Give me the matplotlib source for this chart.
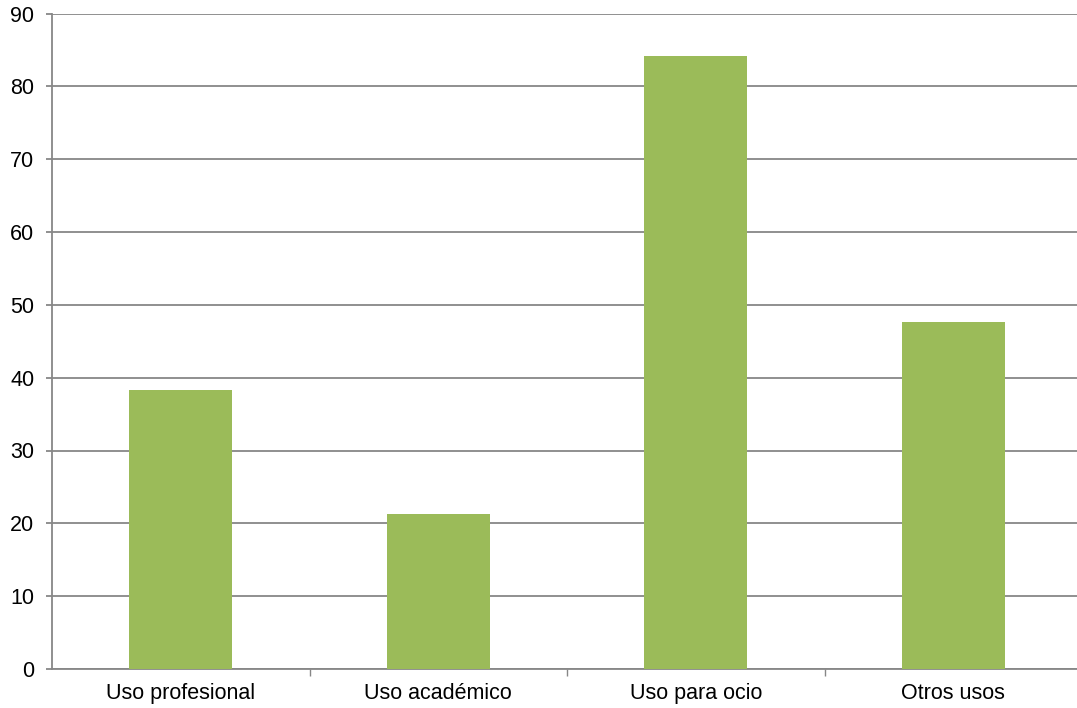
import matplotlib
matplotlib.use("Agg")
import matplotlib.pyplot as plt
from matplotlib.ticker import FixedLocator

categories = ["Uso profesional", "Uso académico", "Uso para ocio", "Otros usos"]
values = [38.3, 21.3, 84.2, 47.6]
yticks = [0, 10, 20, 30, 40, 50, 60, 70, 80, 90]

plt.rcParams['font.family'] = ['Liberation Sans', 'DejaVu Sans']

fig = plt.figure(figsize=(10.77, 7.08), dpi=100)
# plot area runs a little past the right edge, like the original
ax = fig.add_axes([52 / 1077, 39 / 708, 1030 / 1077, 655.5 / 708])

x = list(range(len(categories)))
ax.bar(x, values, width=0.4, color='#9BBB59', zorder=3)

ax.set_xlim(-0.5, len(categories) - 0.5)
ax.set_ylim(0, 90)
ax.set_yticks(yticks)
ax.yaxis.grid(True, color='#878787', linewidth=1.3, zorder=0)

ax.set_xticks(x)
ax.set_xticklabels(categories)
ax.xaxis.set_minor_locator(FixedLocator([i + 0.5 for i in range(len(categories))]))
ax.tick_params(axis='x', which='major', length=0, pad=10, labelsize=15.5)
ax.tick_params(axis='x', which='minor', length=5, width=1, color='#878787', direction='out')
ax.tick_params(axis='y', length=4.3, width=1.3, color='#878787', labelsize=15.5, pad=8.5)

for s in ['top', 'right']:
    ax.spines[s].set_visible(False)
for s in ['left', 'bottom']:
    ax.spines[s].set_color('#878787')
    ax.spines[s].set_linewidth(1.3)

fig.savefig("out.png", dpi=100)
